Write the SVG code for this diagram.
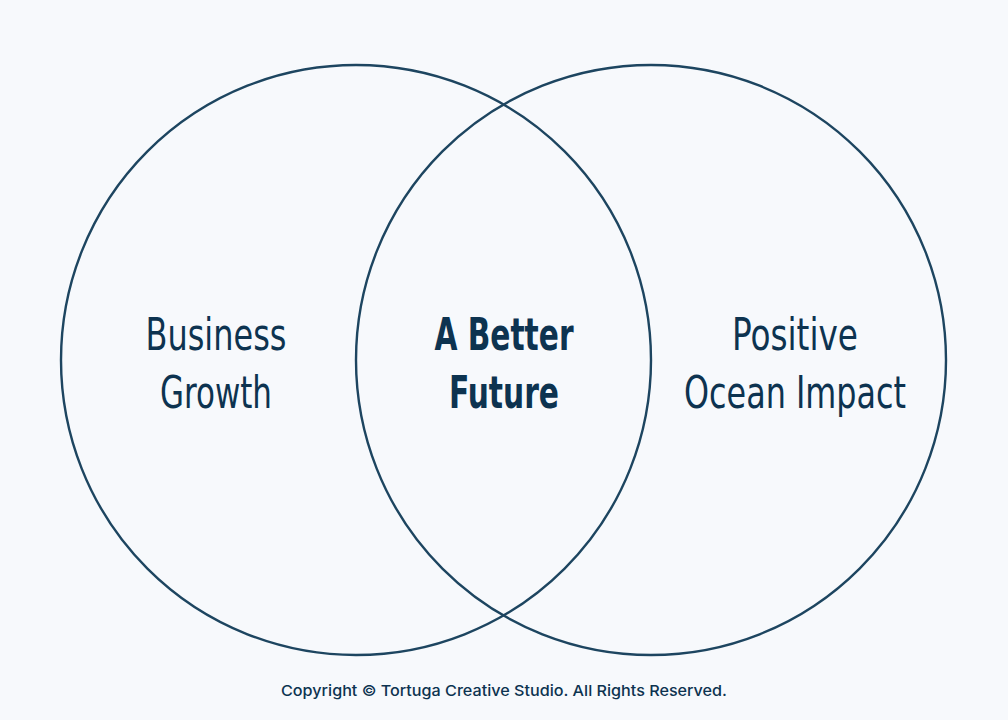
<svg xmlns="http://www.w3.org/2000/svg" width="1008" height="720" viewBox="0 0 1008 720">
<style>
.c{fill:none;stroke:#1d4560;stroke-width:2.4}
.t{font-family:"DejaVu Sans Condensed","DejaVu Sans","Liberation Sans",sans-serif;font-stretch:condensed;font-size:44px;fill:#0d3350;text-anchor:middle}
.b{font-weight:bold}
.f{font-family:"Inter","Liberation Sans",sans-serif;font-size:15px;font-weight:500;fill:#0d3350;text-anchor:middle}
</style>
<rect width="1008" height="720" fill="#f7f9fc"/>
<g id="left-circle">
<circle class="c" cx="356" cy="360" r="295"/>
<text class="t" x="216" y="350" textLength="141" lengthAdjust="spacingAndGlyphs">Business</text>
<text class="t" x="216" y="408" textLength="112" lengthAdjust="spacingAndGlyphs">Growth</text>
</g>
<g id="right-circle">
<circle class="c" cx="651" cy="360" r="295"/>
<text class="t" x="795" y="350" textLength="126" lengthAdjust="spacingAndGlyphs">Positive</text>
<text class="t" x="795" y="408" textLength="222" lengthAdjust="spacingAndGlyphs">Ocean Impact</text>
</g>
<g id="intersection">
<text class="t b" x="504" y="350" textLength="139" lengthAdjust="spacingAndGlyphs">A Better</text>
<text class="t b" x="504" y="408" textLength="110" lengthAdjust="spacingAndGlyphs">Future</text>
</g>
<g id="connectors"/>
<text class="f" x="504" y="696" textLength="446" lengthAdjust="spacingAndGlyphs">Copyright © Tortuga Creative Studio. All Rights Reserved.</text>
</svg>
